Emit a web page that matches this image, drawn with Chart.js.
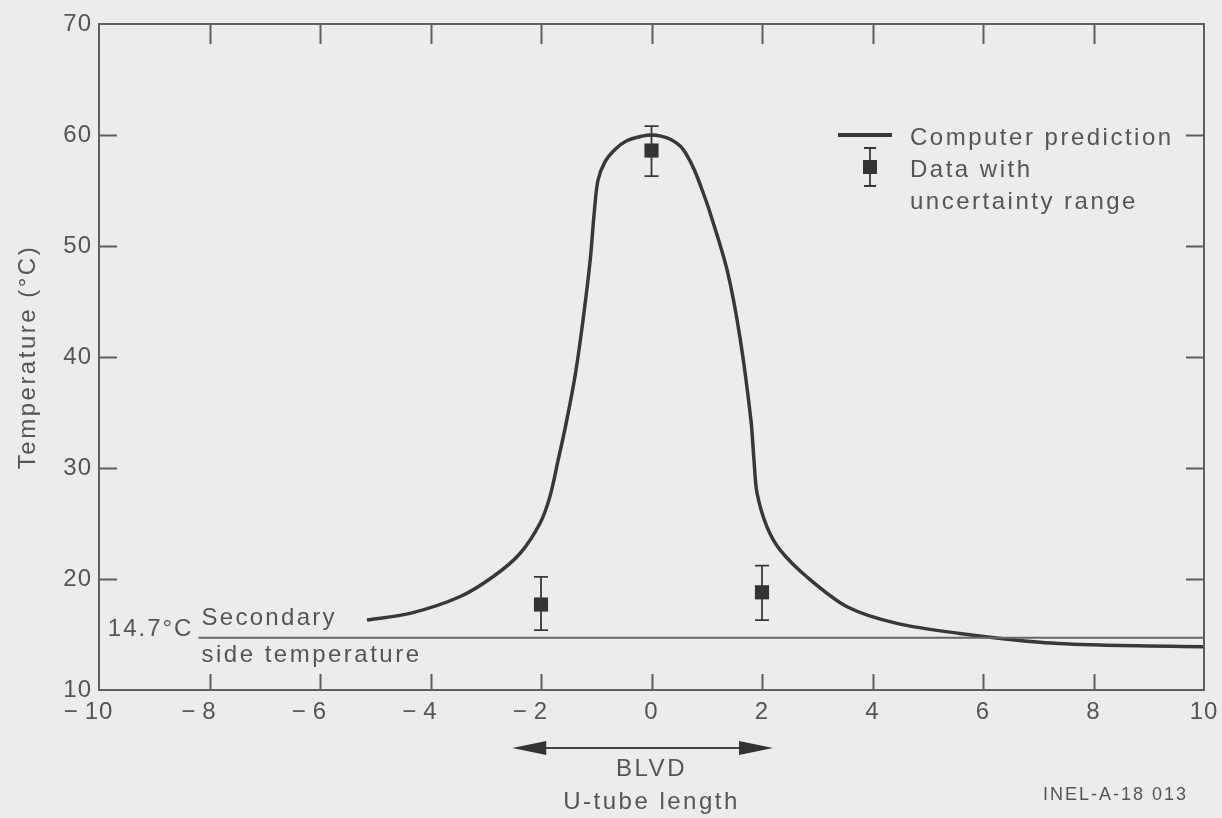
<!DOCTYPE html>
<html>
<head>
<meta charset="utf-8">
<script src="https://cdn.jsdelivr.net/npm/chart.js@4.4.1/dist/chart.umd.min.js"></script>
<style>
html,body{margin:0;padding:0;background:#ececec;}
canvas{display:block;}
</style>
</head>
<body>
<canvas id="c" width="1222" height="818"></canvas>
<script>
// ---- data ----
const curveX = [-5.15, -4.37, -3.47, -2.87, -2.38, -2.02, -1.84, -1.69, -1.55, -1.38, -1.24, -1.11, -1.04, -0.97, -0.84, -0.66, -0.44, -0.17, 0.0, 0.17, 0.35, 0.52, 0.65, 0.78, 0.92, 1.06, 1.37, 1.60, 1.80, 1.855, 1.91, 2.09, 2.33, 2.81, 3.54, 4.44, 5.58, 7.03, 8.12, 10.0];
const curveY = [16.3, 16.9, 18.4, 20.2, 22.3, 25.0, 27.4, 30.7, 33.9, 38.4, 43.3, 48.7, 52.8, 55.9, 57.6, 58.7, 59.5, 59.9, 60.0, 59.9, 59.6, 59.0, 58.1, 56.8, 55.0, 53.0, 47.8, 41.8, 34.3, 30.7, 27.75, 24.7, 22.6, 20.2, 17.5, 16.0, 15.1, 14.3, 14.05, 13.9];
const dataX = [-2, 0, 2];
const dataY = [17.7, 58.6, 18.8];
const errLow = [15.4, 56.3, 16.3];
const errHigh = [20.2, 60.8, 21.2];
const xTicks = [-10, -8, -6, -4, -2, 0, 2, 4, 6, 8, 10];
const yTicks = [10, 20, 30, 40, 50, 60, 70];
const secondaryTemp = 14.7;
const secondaryStartX = -8.2;
const arrowFrom = -2.52, arrowTo = 2.2;

const FONT = "'Liberation Sans', Arial, Helvetica, sans-serif";
const TXT = '#555';
const AX = '#5e5e5e';
const LINE = '#383838';

const curveData = curveX.map((x, i) => ({x: x, y: curveY[i]}));
const pointData = dataX.map((x, i) => ({x: x, y: dataY[i]}));

function txt(ctx, s, x, y, size, spacing, align) {
  ctx.font = size + 'px ' + FONT;
  ctx.letterSpacing = spacing + 'px';
  const w = ctx.measureText(s).width;
  ctx.textAlign = 'left';
  let x0 = x;
  if (align === 'center') x0 = x - w / 2;
  else if (align === 'right') x0 = x - w;
  ctx.fillText(s, x0, y);
  ctx.letterSpacing = '0px';
  return w;
}

const decor = {
  id: 'decor',
  beforeDraw(chart) {
    const ctx = chart.ctx;
    ctx.save();
    ctx.fillStyle = '#ececec';
    ctx.fillRect(0, 0, chart.width, chart.height);
    ctx.restore();
    ctx.letterSpacing = '1px';
  },
  afterDatasetsDraw(chart) {
    const ctx = chart.ctx;
    const xs = chart.scales.x, ys = chart.scales.y;
    const a = chart.chartArea;
    ctx.save();
    ctx.letterSpacing = '0px';
    // frame
    ctx.strokeStyle = AX;
    ctx.lineWidth = 2;
    ctx.strokeRect(a.left, a.top, a.right - a.left, a.bottom - a.top);
    // inward ticks
    xTicks.forEach(v => {
      if (v === xTicks[0] || v === xTicks[xTicks.length - 1]) return;
      const px = Math.round(xs.getPixelForValue(v)) + 0.5;
      ctx.beginPath();
      ctx.moveTo(px, a.bottom); ctx.lineTo(px, a.bottom - 16);
      ctx.moveTo(px, a.top); ctx.lineTo(px, a.top + 20);
      ctx.stroke();
    });
    yTicks.forEach(v => {
      if (v === yTicks[0] || v === yTicks[yTicks.length - 1]) return;
      const py = Math.round(ys.getPixelForValue(v)) + 0.5;
      ctx.beginPath();
      ctx.moveTo(a.left, py); ctx.lineTo(a.left + 18, py);
      ctx.moveTo(a.right, py); ctx.lineTo(a.right - 18, py);
      ctx.stroke();
    });
    // x tick labels: digits centred on the tick, minus sign to the left
    ctx.fillStyle = TXT;
    ctx.textBaseline = 'middle';
    xTicks.forEach(v => {
      const px = xs.getPixelForValue(v);
      const w = txt(ctx, String(Math.abs(v)), px, a.bottom + 22, 24, 1, 'center');
      if (v < 0) txt(ctx, '\u2212', px - w / 2 - 7, a.bottom + 22, 24, 0, 'right');
    });

    // secondary side temperature line
    const ly = ys.getPixelForValue(secondaryTemp);
    const lx = xs.getPixelForValue(secondaryStartX);
    ctx.strokeStyle = '#666';
    ctx.lineWidth = 2;
    ctx.beginPath();
    ctx.moveTo(lx, ly);
    ctx.lineTo(a.right, ly);
    ctx.stroke();
    txt(ctx, '14.7\u00b0C', lx - 5, ly - 8, 24, 2, 'right');
    txt(ctx, 'Secondary', lx + 3, ly - 19, 24, 2.3, 'left');
    txt(ctx, 'side temperature', lx + 3, ly + 18, 24, 2.5, 'left');

    // error bars
    ctx.strokeStyle = LINE;
    ctx.lineWidth = 1.8;
    dataX.forEach((x, i) => {
      const px = xs.getPixelForValue(x);
      const pl = ys.getPixelForValue(errLow[i]);
      const ph = ys.getPixelForValue(errHigh[i]);
      ctx.beginPath();
      ctx.moveTo(px, pl); ctx.lineTo(px, ph);
      ctx.moveTo(px - 7, pl); ctx.lineTo(px + 7, pl);
      ctx.moveTo(px - 7, ph); ctx.lineTo(px + 7, ph);
      ctx.stroke();
    });

    // legend
    ctx.strokeStyle = LINE;
    ctx.lineWidth = 4;
    ctx.beginPath();
    ctx.moveTo(838, 135); ctx.lineTo(892, 135);
    ctx.stroke();
    ctx.lineWidth = 1.8;
    ctx.beginPath();
    ctx.moveTo(870, 148); ctx.lineTo(870, 186);
    ctx.moveTo(864, 148); ctx.lineTo(876, 148);
    ctx.moveTo(864, 186); ctx.lineTo(876, 186);
    ctx.stroke();
    ctx.fillStyle = '#333';
    ctx.fillRect(863, 160, 14, 14);
    ctx.fillStyle = TXT;
    txt(ctx, 'Computer prediction', 910, 138, 24, 2.5, 'left');
    txt(ctx, 'Data with', 910, 170, 24, 2.5, 'left');
    txt(ctx, 'uncertainty range', 910, 202, 24, 2.5, 'left');

    // y title
    ctx.save();
    ctx.translate(28, 357);
    ctx.rotate(-Math.PI / 2);
    txt(ctx, 'Temperature (\u00b0C)', 0, 0, 24, 2.5, 'center');
    ctx.restore();

    // BLVD arrow
    const ax1 = xs.getPixelForValue(arrowFrom), ax2 = xs.getPixelForValue(arrowTo), ay = 748;
    ctx.strokeStyle = '#444';
    ctx.lineWidth = 2;
    ctx.beginPath();
    ctx.moveTo(ax1 + 20, ay); ctx.lineTo(ax2 - 20, ay);
    ctx.stroke();
    ctx.fillStyle = '#333';
    ctx.beginPath();
    ctx.moveTo(ax1, ay); ctx.lineTo(ax1 + 34, ay - 7); ctx.lineTo(ax1 + 34, ay + 7); ctx.closePath();
    ctx.fill();
    ctx.beginPath();
    ctx.moveTo(ax2, ay); ctx.lineTo(ax2 - 34, ay - 7); ctx.lineTo(ax2 - 34, ay + 7); ctx.closePath();
    ctx.fill();
    ctx.fillStyle = TXT;
    txt(ctx, 'BLVD', xs.getPixelForValue(0), 769, 24, 2.5, 'center');
    txt(ctx, 'U-tube length', xs.getPixelForValue(0), 802, 24, 2.5, 'center');
    txt(ctx, 'INEL-A-18 013', 1188, 795, 18, 2, 'right');
    ctx.restore();
  }
};

new Chart(document.getElementById('c'), {
  type: 'scatter',
  data: {
    datasets: [
      {
        label: 'Computer prediction',
        type: 'line',
        data: curveData,
        borderColor: LINE,
        borderWidth: 3.5,
        pointRadius: 0,
        fill: false,
        tension: 0.3
      },
      {
        label: 'Data with uncertainty range',
        data: pointData,
        pointStyle: 'rect',
        pointRadius: 10,
        backgroundColor: '#333',
        borderColor: '#333',
        borderWidth: 0
      }
    ]
  },
  options: {
    responsive: false,
    devicePixelRatio: 1,
    animation: false,
    layout: {padding: {left: 0, right: 18, top: 24, bottom: 0}},
    plugins: {legend: {display: false}, tooltip: {enabled: false}},
    scales: {
      x: {
        type: 'linear', min: -10, max: 10,
        afterBuildTicks: s => { s.ticks = xTicks.map(v => ({value: v})); },
        afterFit: s => { s.height = 128; },
        grid: {display: false, drawTicks: false},
        border: {display: false},
        ticks: {display: false}
      },
      y: {
        type: 'linear', min: 10, max: 70,
        afterBuildTicks: s => { s.ticks = yTicks.map(v => ({value: v})); },
        afterFit: s => { s.width = 99; },
        grid: {display: false, drawTicks: false},
        border: {display: false},
        ticks: {
          padding: 7,
          color: TXT,
          font: {family: FONT, size: 24}
        }
      }
    }
  },
  plugins: [decor]
});
</script>
</body>
</html>
